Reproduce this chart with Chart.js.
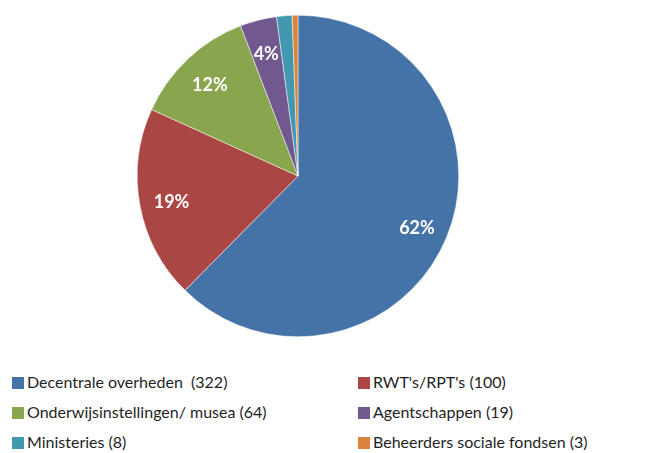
<!DOCTYPE html>
<html>
<head>
<meta charset="utf-8">
<script src="https://cdn.jsdelivr.net/npm/chart.js@4"></script>
<style>
  body { margin: 0; background: #fff; width: 650px; height: 453px; overflow: hidden; position: relative; }
  #wrap { position: absolute; left: 0; top: 0; width: 650px; height: 340px; }
  #legend { position: absolute; left: 12px; top: 372px; width: 640px;
            font-family: Lato, "Open Sans", sans-serif; font-size: 16px; color: #1f1f1f; }
  .item { position: absolute; white-space: pre; line-height: 20px; }
  .box { display: inline-block; width: 12px; height: 12px; margin-right: 3px; vertical-align: -1px; }
</style>
</head>
<body>
<div id="wrap"><canvas id="pie"></canvas></div>
<div id="legend"></div>
<script>
// ================= DATA =================
const labels = ["Decentrale overheden ", "RWT's/RPT's", "Onderwijsinstellingen/ musea", "Agentschappen", "Ministeries", "Beheerders sociale fondsen"];
const counts = [322, 100, 64, 19, 8, 3];
const colors = ["#4572A7", "#AA4643", "#89A54E", "#71588F", "#4198AF", "#DB843D"];

const total = counts.reduce((a, b) => a + b, 0);

// -------- percentage labels inside slices --------
const pctLabels = {
    id: "pctLabels",
    afterDatasetsDraw(chart) {
        const ctx = chart.ctx;
        const meta = chart.getDatasetMeta(0);
        ctx.save();
        ctx.fillStyle = "#fff";
        ctx.font = "bold 18px Lato, 'Open Sans', sans-serif";
        ctx.textAlign = "center";
        ctx.textBaseline = "middle";
        meta.data.forEach((arc, i) => {
            const pct = Math.round(counts[i] / total * 100);
            if (pct < 3) return;
            const p = arc.getProps(["x", "y", "startAngle", "endAngle", "outerRadius"], true);
            const mid = (p.startAngle + p.endAngle) / 2;
            const r = p.outerRadius * 0.8;
            ctx.fillText(pct + "%", p.x + Math.cos(mid) * r, p.y + Math.sin(mid) * r + 3);
        });
        ctx.restore();
    }
};

new Chart(document.getElementById("pie"), {
    type: "pie",
    data: {
        labels: labels,
        datasets: [{
            data: counts,
            backgroundColor: colors,
            borderColor: "#ffffff",
            borderWidth: 0.5
        }]
    },
    options: {
        responsive: true,
        maintainAspectRatio: false,
        animation: false,
        layout: { padding: { top: 15, bottom: 3, left: 0, right: 54 } },
        plugins: {
            legend: { display: false },
            tooltip: { enabled: false }
        }
    },
    plugins: [pctLabels]
});

// -------- LEGEND (2 columns) --------
const legend = document.getElementById("legend");
labels.forEach((name, i) => {
    const col = i % 2, row = Math.floor(i / 2);
    const div = document.createElement("div");
    div.className = "item";
    div.style.left = (col * 346) + "px";
    div.style.top = (row * 30) + "px";
    div.innerHTML = `<span class="box" style="background:${colors[i]}"></span>${name} (${counts[i]})`;
    legend.appendChild(div);
});
</script>
</body>
</html>
